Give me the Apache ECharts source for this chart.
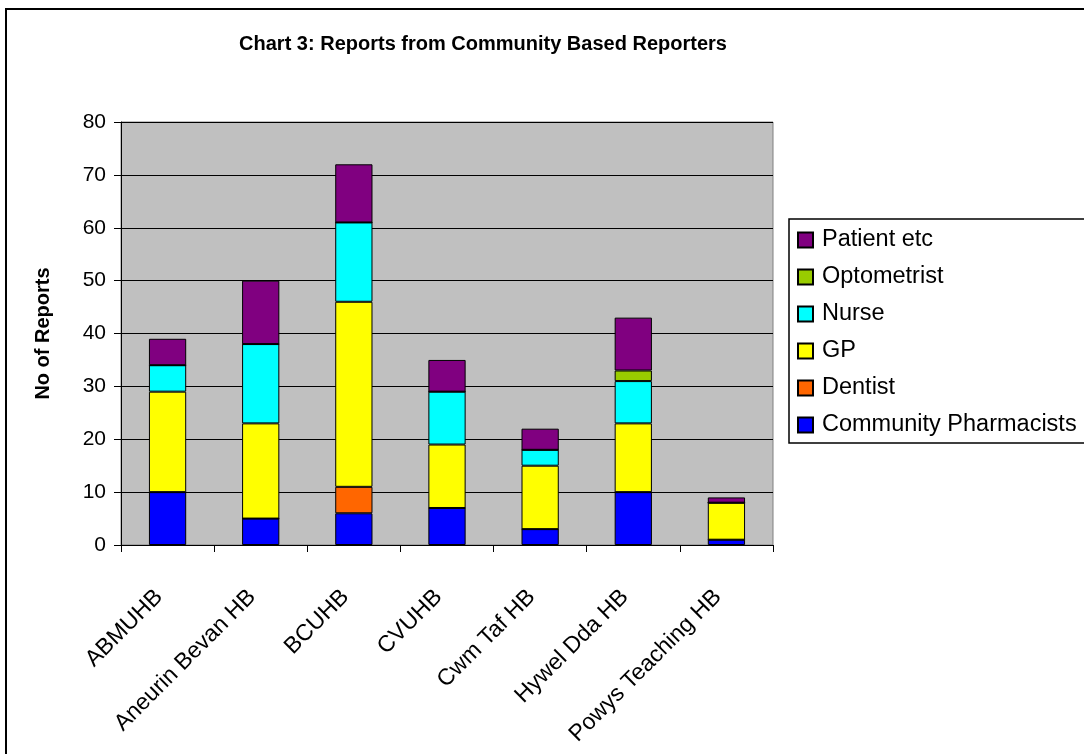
<!DOCTYPE html>
<html>
<head>
<meta charset="utf-8">
<title>Chart 3</title>
<script src="https://cdn.jsdelivr.net/npm/echarts@6/dist/echarts.min.js"></script>
<style>
  html, body { margin: 0; padding: 0; background: #fff; }
  #main { width: 1084px; height: 754px; }
</style>
</head>
<body>
<div id="main"></div>
<script>
// health boards
var boards = ['ABMUHB', 'Aneurin Bevan HB', 'BCUHB', 'CVUHB', 'Cwm Taf HB', 'Hywel Dda HB', 'Powys Teaching HB']

// reports per reporter type (stacked bottom -> top)
var pharmacists = [10, 5, 6, 7, 3, 10, 1]
var dentist = [0, 0, 5, 0, 0, 0, 0]
var gp = [19, 18, 35, 12, 12, 13, 7]
var nurse = [5, 15, 15, 10, 3, 8, 0]
var optometrist = [0, 0, 0, 0, 0, 2, 0]
var patient = [5, 12, 11, 6, 4, 10, 1]

var yTicks = { min: 0, max: 80, step: 10 }

var font = 'Liberation Sans, Arial, sans-serif'

var chart = echarts.init(document.getElementById('main'))

function bar(name, data, color) {
  return {
    name: name,
    type: 'bar',
    stack: 'total',
    barWidth: '40%',
    data: data,
    itemStyle: { color: color, borderColor: '#000', borderWidth: 1 },
    emphasis: { disabled: true }
  }
}

chart.setOption({
  animation: false,
  backgroundColor: '#fff',
  title: {
    text: 'Chart 3: Reports from Community Based Reporters',
    left: 478,
    top: 29,
    textAlign: 'center',
    textStyle: { fontFamily: font, fontSize: 20, fontWeight: 'bold', color: '#000' }
  },
  graphic: [
    // outer chart frame
    { type: 'rect', shape: { x: 6, y: 9, width: 1200, height: 1000 }, style: { fill: null, stroke: '#000', lineWidth: 2 }, z: 10 },
    // legend frame
    { type: 'rect', shape: { x: 789, y: 219, width: 400, height: 224 }, style: { fill: '#fff', stroke: '#000', lineWidth: 1.5 }, z: 0 }
  ],
  legend: {
    orient: 'vertical',
    left: 797,
    top: 228,
    padding: 0,
    itemGap: 13,
    itemWidth: 15,
    itemHeight: 15,
    icon: 'rect',
    data: ['Patient etc', 'Optometrist', 'Nurse', 'GP', 'Dentist', 'Community Pharmacists'],
    textStyle: { fontFamily: font, fontSize: 23.5, color: '#000', lineHeight: 24, padding: [0, 0, 0, 4] },
    z: 5
  },
  grid: {
    left: 121,
    top: 122,
    right: 311,
    bottom: 209,
    show: true,
    backgroundColor: '#c0c0c0',
    borderColor: '#808080',
    borderWidth: 1
  },
  xAxis: {
    type: 'category',
    data: boards,
    axisLine: { lineStyle: { color: '#000', width: 1 } },
    axisTick: { show: true, length: 7, lineStyle: { color: '#000' } },
    axisLabel: { rotate: 45, interval: 0, margin: 40, padding: [0, 12, 0, 0], fontFamily: font, fontSize: 23, color: '#000' }
  },
  yAxis: {
    type: 'value',
    min: yTicks.min,
    max: yTicks.max,
    interval: yTicks.step,
    name: 'No of Reports',
    nameLocation: 'middle',
    nameRotate: 90,
    nameGap: 68,
    nameTextStyle: { fontFamily: font, fontSize: 20, fontWeight: 'bold', color: '#000' },
    axisLine: { show: true, lineStyle: { color: '#000', width: 1 } },
    axisTick: { show: true, length: 7, lineStyle: { color: '#000' } },
    axisLabel: { margin: 15, fontFamily: font, fontSize: 21, color: '#000' },
    splitLine: { lineStyle: { color: '#000', width: 1 } }
  },
  series: [
    bar('Community Pharmacists', pharmacists, '#0000ff'),
    bar('Dentist', dentist, '#ff6600'),
    bar('GP', gp, '#ffff00'),
    bar('Nurse', nurse, '#00ffff'),
    bar('Optometrist', optometrist, '#99cc00'),
    bar('Patient etc', patient, '#800080')
  ]
})

window.onresize = function () {
  chart.resize()
}
</script>
</body>
</html>
